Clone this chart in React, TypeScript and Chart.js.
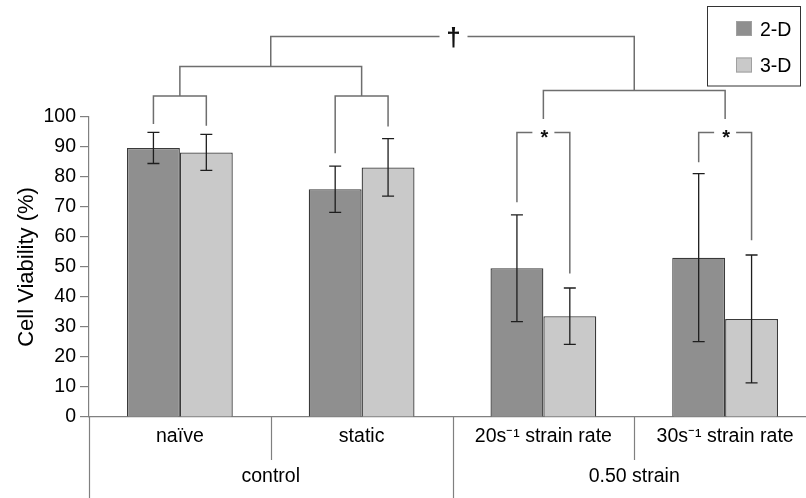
import React, { useEffect, useRef } from 'react';
import { Chart, registerables } from 'chart.js';

Chart.register(...registerables);

// ---------- data ----------
const categories = ['naïve', 'static', '20s⁻¹ strain rate', '30s⁻¹ strain rate'];
const groupLabels = ['control', '0.50 strain'];
const groupOfCategory = [0, 0, 1, 1];
const seriesLabels = ['2-D', '3-D'];
const values2D = [89.7, 75.9, 49.6, 53.1];
const errors2D = [5.2, 7.7, 17.8, 28.0];
const values3D = [88.2, 83.2, 33.6, 32.7];
const errors3D = [6.0, 9.6, 9.4, 21.3];
const yTickMin = 0;
const yTickMax = 100;
const yTickStep = 10;

// significance brackets (values in y units)
const pairLevel = [107.0, 107.0, 94.8, 94.8];
const pairLegEnd2D = [97.7, 87.9, 71.6, 84.9];
const pairLegEnd3D = [97.1, 96.8, 47.8, 58.9];
const pairMark = ['', '', '*', '*'];
const groupLevel = [116.8, 108.8];
const groupLegEnd = [107.0, 99.3];
const topLevel = 126.8;
const topMark = '†';

// ---------- styles ----------
const FONT = '"Liberation Sans", Arial, sans-serif';
const DARK = '#8f8f8f';
const LIGHT = '#c9c9c9';
const BAR_BORDER = '#3a3a3a';
const AXIS = '#808080';
const BRACKET = '#6e6e6e';

const W = 830;
const H = 498;

export default function App() {
  const ref = useRef<HTMLCanvasElement | null>(null);

  useEffect(() => {
    const canvas = ref.current;
    if (!canvas) return;

    const errorBars = {
      id: 'errorBars',
      afterDatasetsDraw(chart: any) {
        const ctx = chart.ctx;
        const y = chart.scales.y;
        const errs = [errors2D, errors3D];
        const vals = [values2D, values3D];
        ctx.save();
        ctx.strokeStyle = '#1e1e1e';
        ctx.lineWidth = 1.3;
        for (let d = 0; d < 2; d++) {
          const meta = chart.getDatasetMeta(d);
          meta.data.forEach((bar: any, j: number) => {
            const x = bar.x;
            const t = y.getPixelForValue(vals[d][j] + errs[d][j]);
            const b = y.getPixelForValue(vals[d][j] - errs[d][j]);
            ctx.beginPath();
            ctx.moveTo(x, t);
            ctx.lineTo(x, b);
            ctx.moveTo(x - 6, t);
            ctx.lineTo(x + 6, t);
            ctx.moveTo(x - 6, b);
            ctx.lineTo(x + 6, b);
            ctx.stroke();
          });
        }
        ctx.restore();
      },
    };

    const drawMark = (ctx: CanvasRenderingContext2D, text: string, x: number, yc: number, font: string) => {
      ctx.font = font;
      ctx.textAlign = 'center';
      ctx.textBaseline = 'alphabetic';
      const m = ctx.measureText(text);
      const asc = m.actualBoundingBoxAscent;
      const desc = m.actualBoundingBoxDescent;
      ctx.fillText(text, x, yc + (asc - desc) / 2);
    };

    const annotations = {
      id: 'annotations',
      afterDraw(chart: any) {
        const ctx = chart.ctx;
        const xs = chart.scales.x;
        const ys = chart.scales.y;
        const area = chart.chartArea;
        const py = (v: number) => ys.getPixelForValue(v);
        const m0 = chart.getDatasetMeta(0);
        const m1 = chart.getDatasetMeta(1);
        const catX = categories.map((_, j) => xs.getPixelForValue(j));

        ctx.save();
        ctx.strokeStyle = BRACKET;
        ctx.lineWidth = 1.5;
        ctx.fillStyle = '#111';

        // pair brackets
        categories.forEach((_, j) => {
          const x1 = m0.data[j].x;
          const x2 = m1.data[j].x;
          const lv = py(pairLevel[j]);
          ctx.strokeStyle = BRACKET;
          ctx.beginPath();
          ctx.moveTo(x1, py(pairLegEnd2D[j]));
          ctx.lineTo(x1, lv);
          if (pairMark[j]) {
            const c = (x1 + x2) / 2;
            ctx.lineTo(c - 11, lv);
            ctx.moveTo(c + 11, lv);
          }
          ctx.lineTo(x2, lv);
          ctx.lineTo(x2, py(pairLegEnd3D[j]));
          ctx.stroke();
          if (pairMark[j]) {
            drawMark(ctx, pairMark[j], (x1 + x2) / 2 + 1, lv + 1, 'bold 20px ' + FONT);
          }
        });

        // group brackets
        const groupMid: number[] = [];
        groupLabels.forEach((_, g) => {
          const idx = categories.map((_, j) => j).filter((j) => groupOfCategory[j] === g);
          const xa = catX[idx[0]];
          const xb = catX[idx[idx.length - 1]];
          const lv = py(groupLevel[g]);
          const le = py(groupLegEnd[g]);
          ctx.beginPath();
          ctx.moveTo(xa, le);
          ctx.lineTo(xa, lv);
          ctx.lineTo(xb, lv);
          ctx.lineTo(xb, le);
          ctx.stroke();
          groupMid.push((xa + xb) / 2);
        });

        // top bracket
        {
          const lv = py(topLevel);
          const xa = groupMid[0];
          const xb = groupMid[1];
          const cx = (xa + xb) / 2 + 1;
          ctx.beginPath();
          ctx.moveTo(xa, py(groupLevel[0]));
          ctx.lineTo(xa, lv);
          ctx.lineTo(cx - 14, lv);
          ctx.moveTo(cx + 14, lv);
          ctx.lineTo(xb, lv);
          ctx.lineTo(xb, py(groupLevel[1]));
          ctx.stroke();
          drawMark(ctx, topMark, cx, lv + 1, 'bold 26px ' + FONT);
        }

        // x-axis dividers
        ctx.strokeStyle = AXIS;
        ctx.lineWidth = 1.2;
        const bottom = area.bottom;
        const bounds: { x: number; full: boolean }[] = [];
        bounds.push({ x: area.left, full: true });
        for (let j = 1; j < categories.length; j++) {
          bounds.push({
            x: (catX[j - 1] + catX[j]) / 2,
            full: groupOfCategory[j] !== groupOfCategory[j - 1],
          });
        }
        bounds.push({ x: area.right, full: true });
        bounds.forEach((b) => {
          ctx.beginPath();
          ctx.moveTo(Math.round(b.x) + 0.5, bottom);
          ctx.lineTo(Math.round(b.x) + 0.5, b.full ? H : bottom + 43);
          ctx.stroke();
        });

        // group labels
        ctx.fillStyle = '#000';
        ctx.font = '19.5px ' + FONT;
        ctx.textAlign = 'center';
        ctx.textBaseline = 'alphabetic';
        groupLabels.forEach((lab, g) => {
          const idx = categories.map((_, j) => j).filter((j) => groupOfCategory[j] === g);
          const cx = idx.reduce((s, j) => s + catX[j], 0) / idx.length;
          ctx.fillText(lab, cx, bottom + 65);
        });

        // legend
        ctx.strokeStyle = '#333';
        ctx.lineWidth = 1;
        ctx.strokeRect(707.5, 6.5, 93, 79.5);
        const colors = [DARK, LIGHT];
        seriesLabels.forEach((lab, i) => {
          const sy = 21 + i * 36.5;
          ctx.fillStyle = colors[i];
          ctx.fillRect(736, sy, 16, 15);
          ctx.strokeStyle = '#a0a0a0';
          ctx.strokeRect(736.5, sy + 0.5, 15, 14);
          ctx.fillStyle = '#000';
          ctx.textAlign = 'left';
          ctx.font = '19.5px ' + FONT;
          ctx.fillText(lab, 760, sy + 14.5);
        });

        ctx.restore();
      },
    };

    const chart = new Chart(canvas, {
      type: 'bar',
      data: {
        labels: categories,
        datasets: [
          {
            label: seriesLabels[0],
            data: values2D,
            backgroundColor: DARK,
            borderColor: BAR_BORDER,
            borderWidth: 1.3,
            categoryPercentage: 0.582,
            barPercentage: 1.0,
          },
          {
            label: seriesLabels[1],
            data: values3D,
            backgroundColor: LIGHT,
            borderColor: BAR_BORDER,
            borderWidth: 1.3,
            categoryPercentage: 0.582,
            barPercentage: 1.0,
          },
        ],
      },
      options: {
        responsive: false,
        animation: false,
        devicePixelRatio: 1,
        layout: { padding: { left: 0, right: 14, top: 117, bottom: 0 } },
        plugins: {
          legend: { display: false },
          tooltip: { enabled: false },
        },
        scales: {
          x: {
            type: 'category',
            offset: true,
            grid: { display: false, drawTicks: false },
            border: { display: true, color: AXIS, width: 1.2 },
            ticks: {
              color: '#000',
              font: { family: FONT, size: 19.5 },
              padding: 8,
              maxRotation: 0,
              autoSkip: false,
            },
            afterFit: (s: any) => {
              s.height = 81;
            },
          },
          y: {
            min: yTickMin,
            max: yTickMax,
            ticks: {
              stepSize: yTickStep,
              color: '#000',
              font: { family: FONT, size: 19.5 },
              padding: 4,
            },
            grid: {
              drawOnChartArea: false,
              drawTicks: true,
              tickLength: 9,
              color: AXIS,
              lineWidth: 1.2,
            },
            border: { display: true, color: AXIS, width: 1.2 },
            title: {
              display: true,
              text: 'Cell Viability (%)',
              color: '#000',
              font: { family: FONT, size: 22 },
              padding: { top: 14, bottom: 0 },
            },
            afterFit: (s: any) => {
              s.width = 89;
            },
          },
        },
      },
      plugins: [errorBars, annotations],
    } as any);

    return () => chart.destroy();
  }, []);

  return (
    <div style={{ position: 'absolute', left: 0, top: 0, width: 806, height: 498, overflow: 'hidden', background: '#fff' }}>
      <canvas ref={ref} width={W} height={H} style={{ width: W, height: H, display: 'block' }} />
    </div>
  );
}
